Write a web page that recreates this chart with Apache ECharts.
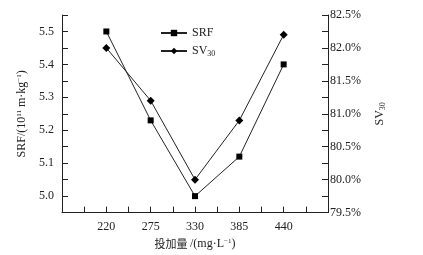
<!DOCTYPE html>
<html>
<head>
<meta charset="utf-8">
<script src="https://cdn.jsdelivr.net/npm/echarts@6/dist/echarts.min.js"></script>
<style>
  html, body { margin: 0; padding: 0; background: #fff; }
  #chart { width: 423px; height: 255px; }
</style>
</head>
<body>
<div id="chart"></div>
<script>
// dosage (mg/L)
const dosage = [220, 275, 330, 385, 440];
const srf = [5.50, 5.23, 5.00, 5.12, 5.40];
const sv30 = [82.0, 81.2, 80.0, 80.9, 82.2];
const srfLabels = [5.0, 5.1, 5.2, 5.3, 5.4, 5.5];
const svLabels = [79.5, 80.0, 80.5, 81.0, 81.5, 82.0, 82.5];

const ink = "#222";
const font = "'Liberation Serif', 'DejaVu Serif', serif";

const chart = echarts.init(document.getElementById("chart"));
const hasLabel = (list, v, d) => list.some(x => Math.abs(x - v) < d);

const supStyle = { fontSize: 7, verticalAlign: "top", padding: [0, 0, 6, 0], fontFamily: font, color: ink };
const subStyle = { fontSize: 8, verticalAlign: "bottom", padding: [6, 0, 0, 0], fontFamily: font, color: ink };
const tick = { show: true, inside: true, length: 6, lineStyle: { color: ink } };
const line = { show: true, lineStyle: { color: ink } };

chart.setOption({
  animation: false,
  grid: { left: 62, right: 95, top: 15, bottom: 42 },
  legend: {
    orient: "vertical",
    left: 155,
    top: 22,
    itemWidth: 26,
    itemHeight: 8,
    itemGap: 6,
    textStyle: {
      fontFamily: font, fontSize: 12, color: ink,
      rich: { sub: subStyle }
    },
    formatter: name => name === "SV30" ? "SV{sub|30}" : name,
    data: ["SRF", "SV30"]
  },
  xAxis: {
    type: "value",
    min: 165,
    max: 495,
    interval: 27.5,
    name: "投加量 {s|/(mg·L}{sup|−1}{s|)}",
    nameLocation: "middle",
    nameGap: 22,
    nameTextStyle: {
      fontFamily: "Noto Sans CJK SC", fontSize: 11, color: ink,
      rich: {
        s: { fontFamily: font, fontSize: 12, color: ink },
        sup: supStyle
      }
    },
    axisLine: line,
    axisTick: tick,
    splitLine: { show: false },
    axisLabel: {
      fontSize: 12, color: ink, fontFamily: font,
      formatter: v => hasLabel(dosage, v, 0.5) ? String(Math.round(v)) : ""
    }
  },
  yAxis: [
    {
      type: "value",
      position: "left",
      min: 4.95,
      max: 5.55,
      interval: 0.05,
      name: "SRF/(10{sup|11} m·kg{sup|−1})",
      nameLocation: "middle",
      nameRotate: 90,
      nameGap: 32,
      nameTextStyle: {
        fontFamily: font, fontSize: 12, color: ink,
        rich: { sup: supStyle }
      },
      axisLine: line,
      axisTick: tick,
      splitLine: { show: false },
      axisLabel: {
        fontSize: 12, color: ink, fontFamily: font,
        formatter: v => hasLabel(srfLabels, v, 0.001) ? v.toFixed(1) : ""
      }
    },
    {
      type: "value",
      position: "right",
      min: 79.5,
      max: 82.5,
      interval: 0.25,
      name: "SV{sub|30}",
      nameLocation: "middle",
      nameRotate: 90,
      nameGap: 45,
      nameTextStyle: {
        fontFamily: font, fontSize: 12, color: ink,
        rich: { sub: subStyle }
      },
      axisLine: line,
      axisTick: tick,
      splitLine: { show: false },
      axisLabel: {
        fontSize: 12, color: ink, fontFamily: font, margin: 2,
        formatter: v => hasLabel(svLabels, v, 0.001) ? v.toFixed(1) + "%" : ""
      }
    }
  ],
  series: [
    {
      name: "SRF",
      type: "line",
      yAxisIndex: 0,
      data: dosage.map((d, i) => [d, srf[i]]),
      symbol: "rect",
      symbolSize: 6,
      lineStyle: { color: ink, width: 1 },
      itemStyle: { color: "#000" }
    },
    {
      name: "SV30",
      type: "line",
      yAxisIndex: 1,
      data: dosage.map((d, i) => [d, sv30[i]]),
      symbol: "diamond",
      symbolSize: 8,
      lineStyle: { color: ink, width: 1 },
      itemStyle: { color: "#000" }
    }
  ]
});
</script>
</body>
</html>
